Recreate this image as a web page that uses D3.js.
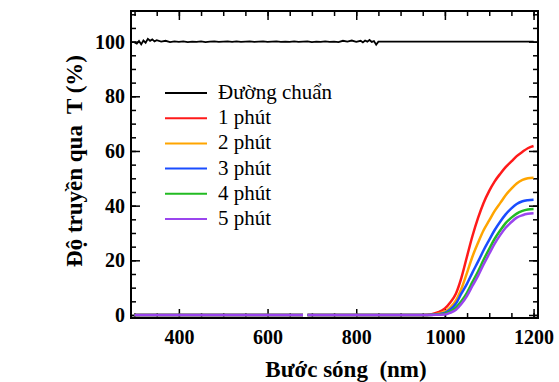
<!DOCTYPE html>
<html>
<head>
<meta charset="utf-8">
<script src="https://cdn.jsdelivr.net/npm/d3@7"></script>
<style>
body { margin: 0; background: #fff; }
</style>
</head>
<body>
<svg id="chart" width="559" height="382"></svg>
<script>
const canvasWidth = 559,
    canvasHeight = 382,
    margin = { top: 11, right: 21, bottom: 64, left: 131 },
    fontFamily = '"Liberation Serif", "Times New Roman", Tinos, "DejaVu Serif", serif'

const width = canvasWidth - margin.left - margin.right
const height = canvasHeight - margin.top - margin.bottom

// reference line (Đường chuẩn), noisy part then flat
const baseWl = [300, 305, 310, 315, 320, 325, 330, 335, 340, 345, 350, 360, 370, 380, 390, 400,
    410, 420, 430, 440, 450, 460, 470, 480, 490, 500, 510, 520, 530, 540, 550, 560, 570, 580,
    590, 600, 610, 620, 630, 640, 650, 660, 670, 680, 690, 700, 710, 720, 730, 740, 750, 760,
    770, 780, 790, 800, 810, 815, 820, 825, 830, 835, 840, 845, 850, 1200]
const baseT = [99.7, 99.3, 100.2, 99.0, 100.4, 99.6, 101.0, 100.3, 100.8, 100.1, 100.5, 100.0,
    100.3, 99.8, 100.1, 99.9, 100.1, 99.8, 100.0, 99.9, 100.1, 99.8, 100.0, 100.1, 99.9, 100.0,
    100.1, 99.9, 100.1, 99.9, 100.0, 100.1, 99.9, 100.0, 100.1, 99.9, 100.0, 100.1, 99.9, 100.0,
    99.9, 100.1, 99.9, 100.0, 100.1, 99.8, 100.0, 99.9, 100.1, 99.9, 100.0, 99.8, 100.3, 100.0,
    100.4, 99.9, 100.3, 99.7, 100.4, 100.0, 100.6, 99.9, 100.2, 98.9, 100.0, 100.0]

// sample curves share one wavelength grid (null = missing point)
const wl = [300, 450, 600, 680, 685, 690, 850, 950, 970, 985, 1000, 1012, 1025, 1037, 1050,
    1062, 1075, 1087, 1100, 1112, 1125, 1137, 1150, 1162, 1175, 1187, 1200]
const t1 = [0, 0, 0, 0, null, 0, 0, 0, 0.3, 1.0, 2.4, 4.6, 7.9, 13.5, 21.5, 28.8, 35.6, 40.9,
    45.4, 48.8, 51.7, 54.1, 56.2, 58.1, 59.7, 61, 61.8]
const t2 = [0, 0, 0, 0, null, 0, 0, 0, 0.1, 0.5, 1.2, 2.7, 5.3, 9.5, 15.5, 21.3, 26.5, 30.9,
    34.6, 38, 41, 43.8, 46.2, 48.1, 49.4, 50, 50.2]
const t3 = [0, 0, 0, 0, null, 0, 0, 0, 0.1, 0.3, 0.8, 2, 4.2, 7.8, 11.5, 15.5, 19.6, 23.6,
    27.5, 31, 34.2, 36.8, 39, 40.6, 41.6, 42, 42.2]
const t4 = [0, 0, 0, 0, null, 0, 0, 0, 0, 0.2, 0.5, 1.3, 2.8, 5, 8.2, 12, 16, 20.1, 24.2, 27.8,
    31, 33.6, 35.6, 37.1, 38.1, 38.6, 38.8]
const t5 = [0, 0, 0, 0, null, 0, 0, 0, 0, 0.1, 0.2, 0.8, 1.9, 4, 7, 10.6, 14.4, 18.4, 22.4,
    26, 29.3, 31.9, 34, 35.6, 36.5, 37, 37.2]

const seriesNames = ['Đường chuẩn', '1 phút', '2 phút', '3 phút', '4 phút', '5 phút']
const seriesColors = ['#000000', '#ff1a1a', '#ffa500', '#1a4dff', '#22bb22', '#9a45ee']

const xMajor = [400, 600, 800, 1000, 1200]
const xMinor = d3.range(300, 1201, 50)
const yMajor = [0, 20, 40, 60, 80, 100]
const yMinor = d3.range(0, 111, 5)

var x = d3.scaleLinear().domain([292, 1210]).range([0, width])
var y = d3.scaleLinear().domain([-1.1, 111.2]).range([height, 0])

var svg = d3.select('#chart')
var g = svg.append('g')
    .attr('transform', `translate(${margin.left},${margin.top})`)

function styleAxis(sel) {
    sel.attr('font-family', null)
    sel.select('.domain').remove()
    sel.selectAll('.tick line').attr('stroke', '#000').attr('stroke-width', 1.5)
    sel.selectAll('.tick text')
        .attr('fill', '#000')
        .style('font-family', fontFamily)
        .style('font-size', '20px')
        .style('font-weight', 'bold')
}

// minor ticks, all four sides
g.append('g').attr('transform', `translate(0,${height})`)
    .call(d3.axisBottom(x).tickValues(xMinor).tickSize(-5).tickFormat('')).call(styleAxis)
g.append('g')
    .call(d3.axisTop(x).tickValues(xMinor).tickSize(-5).tickFormat('')).call(styleAxis)
g.append('g')
    .call(d3.axisLeft(y).tickValues(yMinor).tickSize(-5).tickFormat('')).call(styleAxis)
g.append('g').attr('transform', `translate(${width},0)`)
    .call(d3.axisRight(y).tickValues(yMinor).tickSize(-5).tickFormat('')).call(styleAxis)

// major ticks
g.append('g').attr('transform', `translate(0,${height})`)
    .call(d3.axisBottom(x).tickValues(xMajor).tickSize(-9).tickPadding(12).tickFormat(d3.format('d')))
    .call(styleAxis)
g.append('g')
    .call(d3.axisTop(x).tickValues(xMajor).tickSize(-9).tickFormat('')).call(styleAxis)
g.append('g')
    .call(d3.axisLeft(y).tickValues(yMajor).tickSize(-9).tickPadding(6).tickFormat(d3.format('d')))
    .call(styleAxis)
g.append('g').attr('transform', `translate(${width},0)`)
    .call(d3.axisRight(y).tickValues(yMajor).tickSize(-9).tickFormat('')).call(styleAxis)

var line = d3.line()
    .defined((d) => d[1] != null)
    .x((d) => x(d[0]))
    .y((d) => y(d[1]))

var plot = g.append('g')

plot.append('path')
    .datum(baseWl.map((w, i) => [w, baseT[i]]))
    .attr('fill', 'none')
    .attr('stroke', seriesColors[0])
    .attr('stroke-width', 1.8)
    .attr('d', line)

var smooth = d3.line()
    .defined((d) => d[1] != null)
    .curve(d3.curveMonotoneX)
    .x((d) => x(d[0]))
    .y((d) => y(d[1]))

;[t1, t2, t3, t4, t5].forEach(function(vals, i) {
    plot.append('path')
        .datum(wl.map((w, j) => [w, vals[j]]))
        .attr('fill', 'none')
        .attr('stroke', seriesColors[i + 1])
        .attr('stroke-width', 2.5)
        .attr('d', smooth)
})

// frame
g.append('rect')
    .attr('width', width)
    .attr('height', height)
    .attr('fill', 'none')
    .attr('stroke', '#000')
    .attr('stroke-width', 2)

// legend
var legend = svg.append('g').attr('transform', 'translate(165,93)')
var row = legend.selectAll('g.row')
    .data(seriesNames)
    .enter().append('g')
    .attr('class', 'row')
    .attr('transform', (d, i) => `translate(0,${i * 25.2})`)

row.append('line')
    .attr('x1', 0).attr('x2', 42)
    .attr('stroke', (d, i) => seriesColors[i])
    .attr('stroke-width', 2)

row.append('text')
    .attr('x', 53)
    .attr('y', 6)
    .style('font-family', fontFamily)
    .style('font-size', '21px')
    .text((d) => d)

// axis titles
svg.append('text')
    .attr('x', 346)
    .attr('y', 377)
    .attr('text-anchor', 'middle')
    .style('font-family', fontFamily)
    .style('font-size', '23px')
    .style('font-weight', 'bold')
    .style('white-space', 'pre')
    .text('Bước sóng  (nm)')

svg.append('text')
    .attr('transform', 'translate(82,161) rotate(-90)')
    .attr('text-anchor', 'middle')
    .style('font-family', fontFamily)
    .style('font-size', '23px')
    .style('font-weight', 'bold')
    .style('white-space', 'pre')
    .text('Độ truyền qua  T (%)')
</script>
</body>
</html>
